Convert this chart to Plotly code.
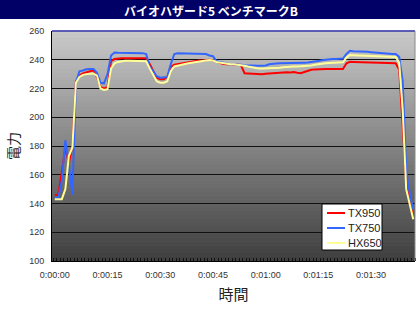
import plotly.graph_objects as go

# seconds 0..102
seconds = list(range(103))
tick_vals = [0, 15, 30, 45, 60, 75, 90]
tick_text = ["0:00:00", "0:00:15", "0:00:30", "0:00:45", "0:01:00", "0:01:15", "0:01:30"]

tx950 = [146, 146, 162, 179, 168, 180, 225, 229, 230.5, 231.5, 232, 232.5, 228, 221, 220, 221, 239, 240.5, 241, 241,
         241, 241, 241.2, 241.3, 241.3, 241, 241, 237, 232, 227.5, 226.5, 226.5, 228, 235, 236.5, 237, 237.5, 238, 238.5, 239,
         239, 239.5, 239.5, 240, 240, 239.5, 238.7, 237.5, 237, 236.8, 236.8, 236.7, 236.7, 236, 230.6, 230.5, 230.3, 230, 230, 230,
         230.3, 230.5, 231, 231.2, 231.2, 231.2, 231.3, 231.2, 231.5, 231, 230.6, 231.5, 232.3, 233, 233.3, 233.5, 233.6, 233.6, 233.5, 233.4,
         233.4, 233.4, 233.6, 237.5, 238.6, 238.5, 238.4, 238.3, 238.3, 238.2, 238.2, 238.1, 238, 238, 238, 237.8, 237.8, 237.5, 233, 195,
         155, 140, 131]
tx750 = [144, 144, 156, 184, 167, 146, 224, 232, 232.5, 233.4, 233.5, 233.5, 231, 224, 223.6, 230, 243, 245, 244.8, 244.8,
         244.8, 244.8, 244.8, 244.8, 244.7, 244.6, 244, 235, 232, 228.5, 227.5, 227.5, 228, 237, 244, 244.5, 244.5, 244.5, 244.5, 244.5,
         244.5, 244.5, 244.5, 244, 243, 242.5, 239, 238.5, 237.5, 237, 236.8, 236.8, 236.8, 236.5, 236.2, 236, 236, 235.9, 235.9, 235.9,
         236, 236.8, 237.3, 237.4, 237.5, 237.5, 237.6, 237.6, 237.7, 237.8, 237.9, 238, 238.1, 238.3, 238.6, 239.2, 239.6, 240, 240.3, 240.5,
         240.5, 240.6, 240.8, 244, 246.3, 246, 246, 245.8, 245.5, 245.5, 245.3, 245, 245, 244.8, 244.5, 244.3, 244, 244, 242, 225,
         163, 147, 136]
hx650 = [143, 143, 143, 150, 173, 179, 224, 228, 229.5, 230, 230.3, 230.5, 229, 220, 219, 219.5, 234, 237.5, 238.5, 239,
         239.3, 239.3, 239.3, 239.3, 239.3, 239.2, 239, 234, 229, 225, 224, 224, 225, 232, 235.3, 236, 236.5, 237, 237.5, 238,
         238.5, 239, 239.3, 239.5, 239.8, 239.5, 238.5, 238, 237.5, 237, 236.8, 236.8, 236.6, 236.3, 235.8, 235.3, 234.8, 234.3, 234, 234,
         234, 234, 234, 234.2, 234.5, 234.8, 235.1, 235.3, 235.3, 235.3, 235.4, 235.5, 235.6, 236, 236.5, 237, 237.3, 237.6, 237.8, 237.9,
         238, 238, 238.2, 241.5, 243.3, 243.2, 243.1, 243, 242.9, 242.8, 242.7, 242.6, 242.5, 242.4, 242.3, 242.2, 242.1, 242, 238, 205,
         150, 140, 129]

series_names = ["TX950", "TX750", "HX650"]
series_values = [tx950, tx750, hx650]
series_colors = ["#ff0000", "#3366ff", "#ffff99"]

fig = go.Figure()
for name, vals, col in zip(series_names, series_values, series_colors):
    fig.add_trace(go.Scatter(x=seconds, y=vals, mode="lines", name=name, showlegend=False,
                             line=dict(color=col, width=2)))

W, H = 420, 311
L, R, T, B = 52, 5, 31, 50
pw, ph = W - L - R, H - T - B


def px_x(x):
    return (x - L) / pw


def px_y(y):
    return 1 - (y - T) / ph


shapes = []
N = 60
top_c, bot_c = 202, 62
for i in range(N):
    f = (i + 0.5) / N
    g = int(round(bot_c + (top_c - bot_c) * f))
    shapes.append(dict(type="rect", xref="paper", yref="paper", x0=0, x1=1,
                       y0=i / N, y1=(i + 1) / N + 0.002, layer="below",
                       line=dict(width=0), fillcolor=f"rgb({g},{g},{g})"))
# title bar
shapes.append(dict(type="rect", xref="paper", yref="paper", x0=px_x(0), x1=px_x(W),
                   y0=px_y(19), y1=px_y(-2), line=dict(width=0),
                   fillcolor="#000066", layer="above"))
# top / right borders
shapes.append(dict(type="line", xref="paper", yref="paper", x0=0, x1=1, y0=1, y1=1,
                   line=dict(color="#3333aa", width=1.5)))
shapes.append(dict(type="line", xref="paper", yref="paper", x0=1, x1=1, y0=0, y1=1,
                   line=dict(color="#888888", width=1)))

annotations = [
    dict(text="<b>バイオハザード5 ベンチマークB</b>", xref="paper", yref="paper",
         x=px_x(211), y=px_y(10), xanchor="center", yanchor="middle",
         showarrow=False, font=dict(family="Noto Sans CJK JP", size=12, color="white")),
]

# legend box (drawn as shapes + text)
lx0, lx1, ly0, ly1 = 322, 382, 204, 250
shapes.append(dict(type="rect", xref="paper", yref="paper", x0=px_x(lx0), x1=px_x(lx1),
                   y0=px_y(ly1), y1=px_y(ly0), fillcolor="white",
                   line=dict(color="black", width=1), layer="above"))
for k, (name, col) in enumerate(zip(series_names, series_colors)):
    yy = 213 + 15 * k
    shapes.append(dict(type="line", xref="paper", yref="paper", x0=px_x(327), x1=px_x(345),
                       y0=px_y(yy), y1=px_y(yy), line=dict(color=col, width=2), layer="above"))
    annotations.append(dict(text=name, xref="paper", yref="paper", x=px_x(346), y=px_y(yy),
                            xanchor="left", yanchor="middle", showarrow=False,
                            font=dict(family="Liberation Sans, Arial", size=11, color="#222222")))

fig.update_layout(
    width=W, height=H,
    margin=dict(l=L, r=R, t=T, b=B),
    paper_bgcolor="white", plot_bgcolor="#888888",
    shapes=shapes, annotations=annotations,
    showlegend=False,
    xaxis=dict(range=[-0.8, 102.5], tickmode="array", tickvals=tick_vals, ticktext=tick_text,
               showgrid=False, zeroline=False, showline=True, linecolor="black", linewidth=1,
               ticks="", ticklabelstandoff=5,
               tickfont=dict(family="Liberation Sans, Arial", size=9, color="#333333"),
               minor=dict(ticks="inside", dtick=1, tick0=0.5, ticklen=3, tickcolor="#111111", tickwidth=1),
               title=dict(text="時間", font=dict(family="Noto Sans CJK JP", size=15, color="#222222"),
                          standoff=10)),
    yaxis=dict(range=[100, 260], dtick=20, showgrid=True, gridcolor="#111111", gridwidth=1,
               zeroline=False, showline=True, linecolor="black", linewidth=1, ticks="",
               ticklabelstandoff=5,
               tickfont=dict(family="Liberation Sans, Arial", size=9, color="#333333"),
               title=dict(text="電力", font=dict(family="Noto Sans CJK JP", size=14, color="#222222"),
                          standoff=6)),
)

fig.write_html("out.html")
